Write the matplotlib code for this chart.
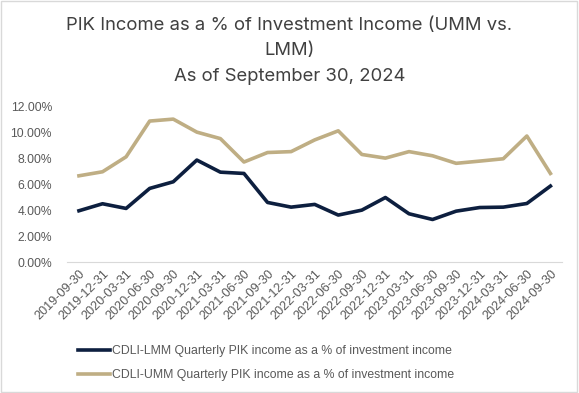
import matplotlib
matplotlib.use("Agg")
import matplotlib.pyplot as plt
from matplotlib.patches import Rectangle
from matplotlib.ticker import FuncFormatter, MultipleLocator

quarters = [
    "2019-09-30", "2019-12-31", "2020-03-31", "2020-06-30", "2020-09-30",
    "2020-12-31", "2021-03-31", "2021-06-30", "2021-09-30", "2021-12-31",
    "2022-03-31", "2022-06-30", "2022-09-30", "2022-12-31", "2023-03-31",
    "2023-06-30", "2023-09-30", "2023-12-31", "2024-03-31", "2024-06-30",
    "2024-09-30",
]
lmm_pik = [3.95, 4.49, 4.13, 5.67, 6.18, 7.85, 6.92, 6.82, 4.59, 4.23,
           4.44, 3.62, 4.00, 4.97, 3.72, 3.28, 3.92, 4.20, 4.23, 4.51, 5.85]
umm_pik = [6.64, 6.95, 8.10, 10.85, 11.00, 10.00, 9.50, 7.70, 8.43, 8.50,
           9.40, 10.10, 8.28, 8.00, 8.50, 8.18, 7.60, 7.77, 7.95, 9.70, 6.82]

navy = "#0d1f3f"
tan = "#bfae84"
grey_text = "#595959"

fig = plt.figure(figsize=(5.79, 3.93), dpi=100)
ax = fig.add_axes([0.116, 0.333, 0.855, 0.397])

x = list(range(len(quarters)))
ax.plot(x, lmm_pik, color=navy, lw=2.6, solid_joinstyle="round",
        label="CDLI-LMM Quarterly PIK income as a % of investment income")
ax.plot(x, umm_pik, color=tan, lw=2.6, solid_joinstyle="round",
        label="CDLI-UMM Quarterly PIK income as a % of investment income")

ax.set_xlim(-0.5, len(quarters) - 0.5)
ax.set_ylim(0, 12)
ax.yaxis.set_major_locator(MultipleLocator(2))
ax.yaxis.set_major_formatter(FuncFormatter(lambda v, p: f"{v:.2f}%"))
ax.set_xticks(x)
ax.set_xticklabels(quarters, rotation=45, ha="right", rotation_mode="anchor")

for side in ["top", "right", "left"]:
    ax.spines[side].set_visible(False)
ax.spines["bottom"].set_color("#d9d9d9")
ax.tick_params(axis="both", length=0, colors=grey_text)
ax.tick_params(axis="y", pad=11, labelsize=8.7)
ax.tick_params(axis="x", pad=4, labelsize=9.1)
for lbl in ax.get_xticklabels() + ax.get_yticklabels():
    lbl.set_family("Liberation Sans")

fig.text(0.5, 0.957, "PIK Income as a % of Investment Income (UMM vs.\nLMM)\nAs of September 30, 2024",
         ha="center", va="top", fontsize=13.3, color="#404040", family="Inter",
         linespacing=1.65)

fig.legend(loc="center", bbox_to_anchor=(0.46, 0.076), ncol=1, frameon=False,
           prop={"family": "Liberation Sans", "size": 8.8}, labelcolor=grey_text,
           handlelength=2.6, handletextpad=0.2, labelspacing=0.95)

fig.patches.append(Rectangle((0.002, 0.003), 0.994, 0.994, transform=fig.transFigure,
                             fill=False, edgecolor="#d9d9d9", lw=1))

fig.savefig("out.png", dpi=100)
